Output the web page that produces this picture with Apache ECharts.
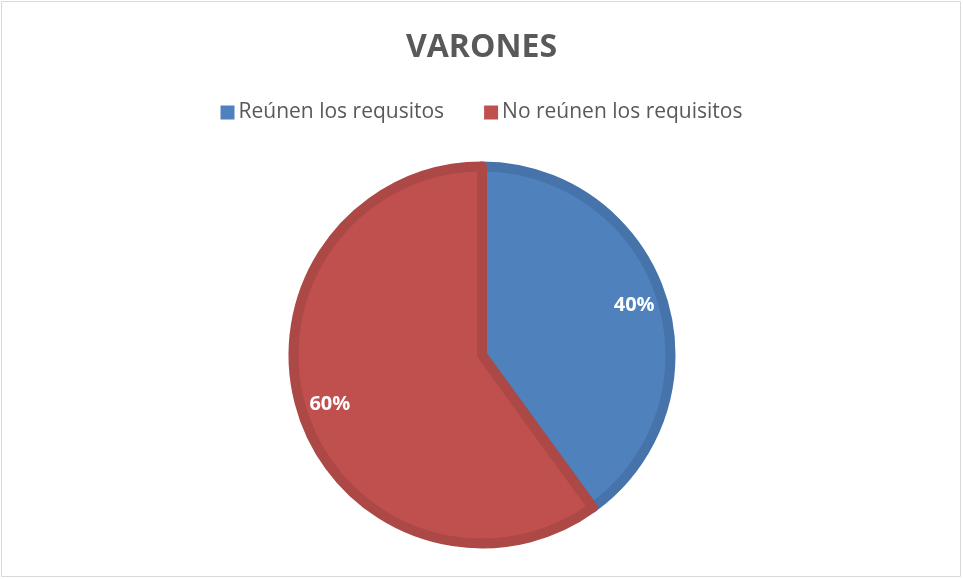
<!DOCTYPE html>
<html><head><meta charset="utf-8">
<script src="https://cdn.jsdelivr.net/npm/echarts@6/dist/echarts.min.js"></script>
<style>html,body{margin:0;padding:0;background:#fff}#c{width:963px;height:579px}</style>
</head><body><div id="c"></div>
<script>
var title = 'VARONES';
var categories = ['Reúnen los requsitos', 'No reúnen los requisitos'];
var values = [40, 60];
var fillColors = ['#4F81BD', '#C0504D'];
var borderColors = ['#4773AB', '#AC4846'];

var chart = echarts.init(document.getElementById('c'), null, {renderer: 'canvas'});
var font = '"Open Sans", "Liberation Sans", sans-serif';
chart.setOption({
  animation: false,
  title: {text: title, left: 'center', top: 27,
    textStyle: {fontFamily: font, fontWeight: 'bold', fontSize: 32, color: '#595959'}},
  legend: {data: categories, top: 97, left: 'center', itemWidth: 14, itemHeight: 14, itemGap: 40,
    icon: 'rect', itemStyle: {borderWidth: 0},
    textStyle: {fontFamily: font, fontSize: 21, color: '#595959', padding: [0,0,0,-1]}},
  graphic: [{type: 'rect', shape: {x: 1.5, y: 1.5, width: 959, height: 575},
    style: {fill: 'none', stroke: '#D9D9D9', lineWidth: 1}, silent: true}],
  series: [{
    type: 'pie', center: [482, 355], radius: [0, 188.5], startAngle: 90, clockwise: true,
    data: categories.map(function(n, i){ return {name: n, value: values[i],
      itemStyle: {color: fillColors[i], borderColor: borderColors[i], borderWidth: 10}}; }),
    label: {show: false}, labelLine: {show: false}, emphasis: {disabled: true}
  }, {
    type: 'pie', center: [482, 355], radius: [120, 194], startAngle: 90, clockwise: true,
    silent: true, legendHoverLink: false,
    data: categories.map(function(n, i){ return {name: n + ' ', value: values[i],
      itemStyle: {color: 'rgba(0,0,0,0)'}}; }),
    label: {show: true, position: 'inner', formatter: function(p){ return p.value + '%'; },
      fontFamily: font, fontWeight: 'bold', fontSize: 20, color: '#fff'},
    labelLine: {show: false}, emphasis: {disabled: true}
  }]
});
</script></body></html>
